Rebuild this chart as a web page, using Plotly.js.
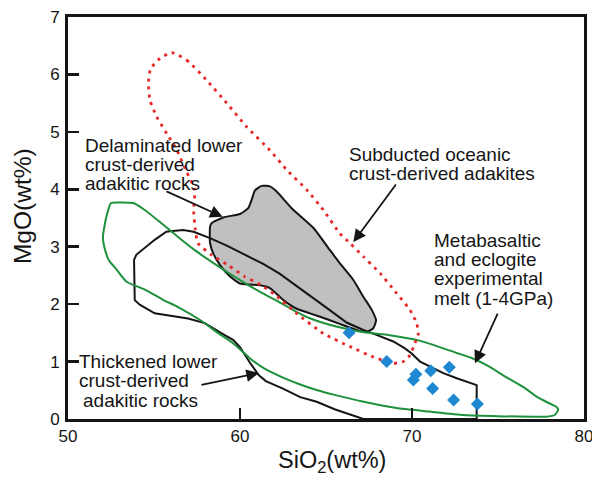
<!DOCTYPE html>
<html>
<head>
<meta charset="utf-8">
<script src="https://cdn.plot.ly/plotly-3.0.1.min.js"></script>
<style>html,body{margin:0;padding:0;background:#fff;}#chart{width:592px;height:478px;}</style>
</head>
<body>
<div id="chart"></div>
<script>
// Delaminated lower crust-derived adakitic rocks (grey field)
var delamSiO2 = [58.35,59.03,60.0,60.48,60.67,60.87,61.26,61.74,62.13,63.0,64.26,65.23,65.81,66.59,67.17,67.66,67.91,67.75,67.4,66.98,66.2,65.23,64.07,63.29,62.52,61.74,61.16,60.5,60.0,59.42,58.84,58.45,58.26,58.26,58.35];
var delamMgO  = [3.41,3.51,3.57,3.67,3.81,3.98,4.06,4.05,3.96,3.67,3.33,2.94,2.71,2.42,2.13,1.90,1.72,1.58,1.52,1.53,1.61,1.72,1.84,1.92,2.07,2.28,2.33,2.34,2.36,2.48,2.68,2.88,3.06,3.35,3.41];

// Thickened lower crust-derived adakitic rocks (black outline)
var thickSiO2 = [55.93,56.7,57.3,58.26,59.23,60.38,61.35,62.3,63.2,64.2,65.2,66.2,67.17,67.9,68.91,69.59,69.98,70.47,71.05,71.82,72.6,73.76,73.76,67.17,65.5,64.46,63.5,62.5,61.5,61.1,60.58,60.0,59.6,59.11,57.95,56.98,55.04,54.17,53.88,53.84,53.97,55.04,55.72,55.93];
var thickMgO  = [3.27,3.29,3.26,3.15,3.02,2.85,2.70,2.53,2.33,2.11,1.90,1.68,1.55,1.47,1.35,1.23,1.14,1.00,0.91,0.80,0.71,0.59,0.00,0.00,0.17,0.30,0.38,0.53,0.66,0.76,0.98,1.25,1.38,1.46,1.67,1.75,1.84,1.99,2.07,2.77,2.86,3.12,3.26,3.27];

// Metabasaltic and eclogite experimental melt (green outline)
var metaSiO2 = [52.5,53.1,53.8,54.46,55.43,56.4,57.37,58.33,59.3,60.27,61.24,62.2,63.2,64.1,65.6,67.2,68.7,70.5,72.6,73.4,74.5,75.3,76.5,77.25,78.0,78.4,78.5,78.3,77.8,75.0,73.0,71.0,69.1,67.2,65.5,64.5,63.5,62.5,61.4,60.6,59.6,58.8,57.7,56.4,55.5,54.5,53.4,52.7,52.4,52.15,52.03,52.23,52.5];
var metaMgO  = [3.76,3.77,3.76,3.64,3.41,3.17,2.94,2.74,2.55,2.37,2.20,2.05,1.88,1.75,1.61,1.51,1.46,1.36,1.15,1.07,0.91,0.76,0.55,0.39,0.27,0.21,0.16,0.07,0.04,0.05,0.07,0.13,0.19,0.30,0.42,0.50,0.60,0.72,0.88,1.05,1.32,1.48,1.72,1.95,2.08,2.25,2.39,2.65,2.75,2.95,3.17,3.52,3.76];

// Subducted oceanic crust-derived adakites (red dotted outline)
var subSiO2 = [56.03,56.9,58.06,59.23,60.38,61.74,62.71,63.88,64.84,65.81,66.4,67.17,68.14,69.1,69.88,70.27,70.37,70.17,69.88,69.5,68.91,67.75,66.4,64.84,63.29,62.0,61.24,60.27,59.3,58.33,57.56,57.4,57.3,57.37,56.9,56.3,55.74,55.16,54.77,54.67,54.8,55.35,56.03];
var subMgO  = [6.38,6.25,5.90,5.50,5.09,4.68,4.34,3.99,3.64,3.23,3.06,2.83,2.54,2.19,1.90,1.67,1.49,1.32,1.11,1.00,0.97,1.08,1.26,1.49,1.84,2.17,2.33,2.48,2.68,2.86,3.06,3.30,3.64,3.99,4.30,4.70,4.97,5.26,5.55,5.84,6.10,6.28,6.38];

// Samples (blue diamonds)
var sampleSiO2 = [66.34,68.53,70.23,70.08,71.09,72.17,71.20,72.42,73.80];
var sampleMgO  = [1.50,1.00,0.78,0.68,0.84,0.90,0.53,0.33,0.26];

// Ticks
var xTicks = [50,60,70,80];
var yTicks = [0,1,2,3,4,5,6,7];

// Axis titles
var xTitle = "SiO<sub>2</sub>(wt%)";
var yTitle = "MgO(wt%)";

// Field labels
var delamLabel = ["Delaminated lower","crust-derived","adakitic rocks"];
var subLabel   = ["Subducted oceanic","crust-derived adakites"];
var metaLabel  = ["Metabasaltic","and eclogite","experimental","melt (1-4GPa)"];
var thickLabel = ["Thickened lower","crust-derived","adakitic rocks"];

var FONT = "Liberation Sans, Arial, sans-serif";
var INK = "#151515";

var traces = [
  {x: delamSiO2, y: delamMgO, mode: "lines", fill: "toself", fillcolor: "rgb(192,192,192)",
   line: {color: INK, width: 2, shape: "spline", smoothing: 0.5}, hoverinfo: "skip"},
  {x: thickSiO2, y: thickMgO, mode: "lines",
   line: {color: INK, width: 2}, hoverinfo: "skip"},
  {x: metaSiO2, y: metaMgO, mode: "lines",
   line: {color: "rgb(30,145,60)", width: 2, shape: "spline", smoothing: 0.5}, hoverinfo: "skip"},
  {x: subSiO2, y: subMgO, mode: "lines",
   line: {color: "rgb(232,40,40)", width: 2.8, dash: "3px,5px", shape: "spline", smoothing: 0.5}, hoverinfo: "skip"},
  {x: sampleSiO2, y: sampleMgO, mode: "markers",
   marker: {symbol: "diamond", size: 10, color: "rgb(30,135,210)", line: {width: 0}}}
];

function labelLines(lines, x, ys, size) {
  return lines.map(function(t, i) {
    return {text: t, x: x[i] !== undefined ? x[i] : x[0], y: ys[i], xref: "x", yref: "y",
            xanchor: "left", yanchor: "middle", showarrow: false,
            font: {family: FONT, size: size, color: INK}};
  });
}

function arrow(tailX, tailY, tipX, tipY) {
  return {text: "", x: tipX, y: tipY, ax: tailX, ay: tailY, xref: "x", yref: "y",
          axref: "x", ayref: "y", showarrow: true, arrowhead: 2, arrowsize: 1.4,
          arrowwidth: 1.8, arrowcolor: INK, standoff: 0, startstandoff: 0};
}

var annotations = []
  .concat(labelLines(delamLabel, [50.9], [4.765, 4.434, 4.099], 19))
  .concat(labelLines(subLabel, [66.2], [4.606, 4.275], 19))
  .concat(labelLines(metaLabel, [71.15], [3.113, 2.777, 2.446, 2.098], 19))
  .concat(labelLines(thickLabel, [50.55, 50.5, 50.78], [1.006, 0.670, 0.327], 19))
  .concat([
    arrow(55.64, 3.975, 58.99, 3.52),
    arrow(69.13, 4.11, 66.59, 3.08),
    arrow(75.02, 1.86, 73.66, 0.97),
    arrow(57.67, 0.59, 61.10, 0.80),
    {text: xTitle, xref: "paper", yref: "paper", x: 0.511, y: -0.106,
     xanchor: "center", yanchor: "middle", showarrow: false, borderpad: 0,
     font: {family: FONT, size: 23.5, color: INK}},
    {text: yTitle, xref: "paper", yref: "paper", x: -0.087, y: 0.53, textangle: -90,
     xanchor: "center", yanchor: "middle", showarrow: false,
     font: {family: FONT, size: 24.5, color: INK}}
  ]);

var axisCommon = {
  ticks: "inside", ticklen: 11, tickwidth: 2.5, tickcolor: INK,
  showline: true, linewidth: 3, linecolor: INK, mirror: true,
  showgrid: false, zeroline: false, ticklabeloverflow: "allow",
  tickfont: {family: FONT, size: 17, color: INK}
};

var layout = {
  width: 592, height: 478,
  margin: {l: 68, r: 8, t: 17, b: 59, pad: 0},
  paper_bgcolor: "#fff", plot_bgcolor: "#fff",
  showlegend: false,
  font: {family: FONT, color: INK},
  xaxis: Object.assign({}, axisCommon, {
    range: [50, 80], tickvals: xTicks, ticktext: xTicks.map(String)
  }),
  yaxis: Object.assign({}, axisCommon, {
    range: [0, 7], tickvals: yTicks, ticktext: yTicks.map(String), ticklabelstandoff: 2
  }),
  annotations: annotations
};

Plotly.newPlot("chart", traces, layout, {displayModeBar: false, staticPlot: true});
</script>
</body>
</html>
